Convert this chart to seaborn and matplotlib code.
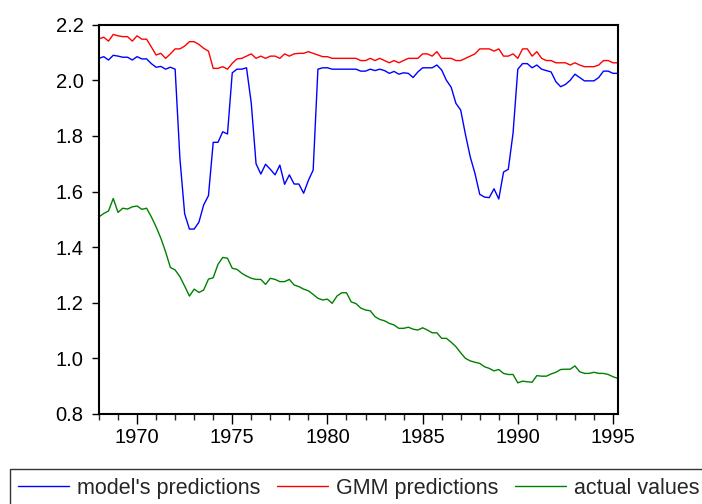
import numpy as np
import pandas as pd
import matplotlib
matplotlib.use("Agg")
import matplotlib.pyplot as plt
from matplotlib.ticker import MultipleLocator
import seaborn as sns

# quarterly series, 1968Q1 .. 1995Q2
start_year = 1968
series_names = ["model's predictions", "GMM predictions", "actual values"]
series_colors = ["#0000ff", "#ff0000", "#008000"]

model_pred = [
    2.079, 2.085, 2.073, 2.090, 2.087, 2.083, 2.083, 2.073, 2.085, 2.077,
    2.077, 2.060, 2.047, 2.050, 2.040, 2.047, 2.040, 1.720, 1.520, 1.465,
    1.465, 1.490, 1.552, 1.585, 1.777, 1.777, 1.815, 1.807, 2.027, 2.040,
    2.040, 2.045, 1.917, 1.700, 1.663, 1.698, 1.680, 1.660, 1.695, 1.626,
    1.660, 1.627, 1.627, 1.594, 1.640, 1.677, 2.040, 2.045, 2.045, 2.040,
    2.040, 2.040, 2.040, 2.040, 2.040, 2.033, 2.033, 2.040, 2.035, 2.040,
    2.035, 2.025, 2.032, 2.022, 2.027, 2.025, 2.010, 2.030, 2.045, 2.045,
    2.045, 2.055, 2.037, 2.000, 1.975, 1.917, 1.893, 1.805, 1.725, 1.665,
    1.590, 1.580, 1.578, 1.610, 1.573, 1.670, 1.680, 1.810, 2.040, 2.060,
    2.060, 2.045, 2.055, 2.040, 2.035, 2.030, 1.995, 1.977, 1.985, 2.000,
    2.022, 2.010, 1.998, 1.998, 1.998, 2.010, 2.033, 2.033, 2.025, 2.025,
]

gmm_pred = [
    2.149, 2.155, 2.141, 2.165, 2.160, 2.157, 2.157, 2.141, 2.160, 2.148,
    2.148, 2.120, 2.091, 2.097, 2.079, 2.095, 2.113, 2.113, 2.123, 2.139,
    2.139, 2.129, 2.115, 2.105, 2.043, 2.043, 2.049, 2.040, 2.061, 2.077,
    2.079, 2.087, 2.095, 2.079, 2.087, 2.079, 2.087, 2.087, 2.079, 2.095,
    2.087, 2.095, 2.097, 2.097, 2.103, 2.097, 2.091, 2.085, 2.085, 2.079,
    2.079, 2.079, 2.079, 2.079, 2.079, 2.071, 2.071, 2.079, 2.071, 2.079,
    2.071, 2.063, 2.071, 2.063, 2.071, 2.079, 2.079, 2.079, 2.095, 2.095,
    2.087, 2.103, 2.079, 2.079, 2.079, 2.071, 2.071, 2.079, 2.087, 2.095,
    2.113, 2.113, 2.113, 2.105, 2.113, 2.087, 2.087, 2.095, 2.079, 2.113,
    2.113, 2.087, 2.103, 2.079, 2.071, 2.071, 2.063, 2.063, 2.063, 2.055,
    2.063, 2.055, 2.049, 2.049, 2.049, 2.055, 2.071, 2.071, 2.063, 2.063,
]

actual = [
    1.509, 1.521, 1.530, 1.575, 1.525, 1.540, 1.537, 1.545, 1.548, 1.536,
    1.540, 1.509, 1.473, 1.432, 1.383, 1.327, 1.318, 1.294, 1.260, 1.224,
    1.249, 1.237, 1.246, 1.285, 1.290, 1.338, 1.363, 1.360, 1.324, 1.320,
    1.306, 1.296, 1.288, 1.284, 1.284, 1.266, 1.288, 1.284, 1.276, 1.276,
    1.284, 1.264, 1.258, 1.249, 1.243, 1.230, 1.216, 1.210, 1.213, 1.198,
    1.224, 1.236, 1.236, 1.203, 1.197, 1.181, 1.174, 1.171, 1.150, 1.140,
    1.135, 1.126, 1.120, 1.108, 1.108, 1.112, 1.105, 1.102, 1.110, 1.102,
    1.092, 1.092, 1.072, 1.072, 1.058, 1.042, 1.020, 1.000, 0.991, 0.986,
    0.982, 0.970, 0.964, 0.955, 0.960, 0.946, 0.942, 0.942, 0.912, 0.918,
    0.916, 0.914, 0.938, 0.936, 0.936, 0.944, 0.950, 0.960, 0.961, 0.961,
    0.973, 0.952, 0.946, 0.946, 0.950, 0.946, 0.946, 0.942, 0.934, 0.928,
]

y_ticks = [0.8, 1.0, 1.2, 1.4, 1.6, 1.8, 2.0, 2.2]

# long-form table for seaborn
t = start_year + np.arange(len(actual)) / 4
df = pd.DataFrame({
    "t": np.tile(t, 3),
    "value": model_pred + gmm_pred + actual,
    "series": np.repeat(series_names, len(actual)),
})

sns.set_style("white")
plt.rcParams["font.family"] = ["Liberation Sans", "DejaVu Sans"]

fig = plt.figure(figsize=(7.02, 5.04), dpi=100)
ax = fig.add_axes([0.141, 0.1786, 0.739, 0.7724])

sns.lineplot(data=df, x="t", y="value", hue="series", hue_order=series_names,
             palette=series_colors, linewidth=1.0, ax=ax, legend=False)

ax.set_xlim(1968, 1995.25)
ax.set_ylim(0.8, 2.2)
ax.set_yticks(y_ticks)
ax.set_yticklabels([f"{v:.1f}" for v in y_ticks])
ax.xaxis.set_major_locator(MultipleLocator(5))
ax.xaxis.set_minor_locator(MultipleLocator(1))
ax.set_xlabel("")
ax.set_ylabel("")

for sp in ax.spines.values():
    sp.set_color("black")
    sp.set_linewidth(1.5)
ax.tick_params(axis="both", which="major", direction="out", width=1,
               labelsize=14.5, colors="black", bottom=True, left=True)
ax.tick_params(axis="x", which="major", length=7, pad=3)
ax.tick_params(axis="y", which="major", length=5, pad=6)
ax.tick_params(axis="x", which="minor", direction="out", length=4, width=1, bottom=True)

# legend box at the bottom of the figure
handles = [plt.Line2D([], [], color=c, linewidth=1.0) for c in series_colors]
leg = fig.legend(handles, series_names, loc="upper left",
                 bbox_to_anchor=(9.5 / 702, 1 - 469 / 504), ncol=3, fontsize=15.5,
                 frameon=True, fancybox=False, handlelength=2.35, handletextpad=0.37,
                 columnspacing=0.8, borderpad=0.4, borderaxespad=0)
leg.get_frame().set_edgecolor("black")
leg.get_frame().set_linewidth(1.0)

fig.savefig("out.png", dpi=100)
